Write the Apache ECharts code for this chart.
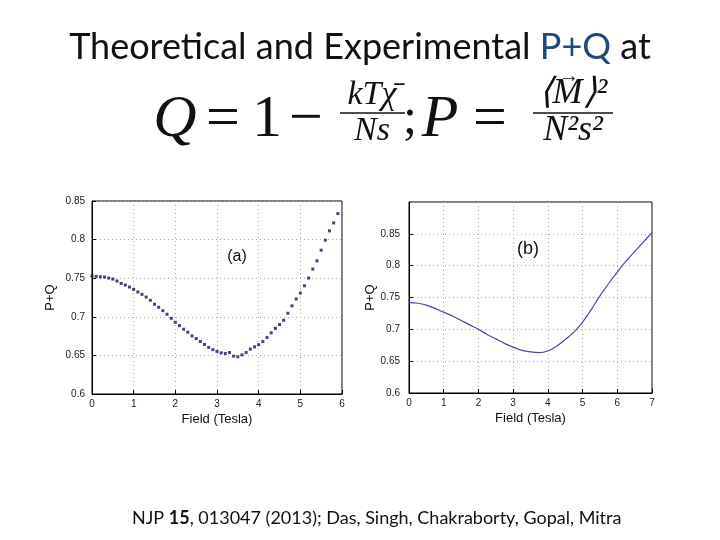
<!DOCTYPE html>
<html>
<head>
<meta charset="utf-8">
<script src="https://cdn.jsdelivr.net/npm/echarts@6/dist/echarts.min.js"></script>
<style>html,body{margin:0;padding:0;background:#fff}#c{width:720px;height:540px}</style>
</head>
<body>
<div id="c"></div>
<script>
// Panel (a): experimental points
const fieldA = [0.0,0.1,0.2,0.3,0.4,0.5,0.6,0.7,0.8,0.9,1.0,1.1,1.2,1.3,1.4,1.5,1.6,1.7,1.8,1.9,
  2.0,2.1,2.2,2.3,2.4,2.5,2.6,2.7,2.8,2.9,3.0,3.1,3.2,3.3,3.4,3.5,3.6,3.7,3.8,3.9,
  4.0,4.1,4.2,4.3,4.4,4.5,4.6,4.7,4.8,4.9,5.0,5.1,5.2,5.3,5.4,5.5,5.6,5.7,5.8,5.9];
const pqA = [0.7528,0.7524,0.7519,0.7515,0.7502,0.7489,0.7463,0.7433,0.7411,0.7386,
  0.7356,0.7321,0.7291,0.7256,0.7214,0.7162,0.7123,0.7079,0.7033,0.6981,
  0.6929,0.6886,0.6839,0.6801,0.6753,0.6718,0.6680,0.6642,0.6604,0.6575,
  0.6552,0.6533,0.6524,0.6537,0.6490,0.6482,0.6507,0.6537,0.6581,0.6611,
  0.6640,0.6679,0.6731,0.6792,0.6850,0.6899,0.6955,0.7046,0.7142,0.7231,
  0.7308,0.7402,0.7502,0.7618,0.7725,0.7863,0.7993,0.8113,0.8216,0.8337];
// Panel (b): theoretical curve
const fieldB = [0,0.25,0.5,0.75,1.0,1.25,1.5,1.75,2.0,2.25,2.5,2.75,3.0,3.25,3.5,3.75,
  4.0,4.25,4.5,4.75,5.0,5.25,5.5,5.75,6.0,6.25,6.5,6.75,7.0];
const pqB = [0.742,0.741,0.738,0.733,0.727,0.721,0.714,0.707,0.700,0.692,0.685,0.678,0.672,0.667,0.6645,0.6635,
  0.666,0.6735,0.684,0.6955,0.7115,0.731,0.7525,0.772,0.790,0.807,0.822,0.837,0.852];

const chart = echarts.init(document.getElementById('c'), null, {renderer:'canvas'});
const axisFont = {fontFamily:'Liberation Sans', fontSize:10, color:'#222'};
const nameFont = {fontFamily:'Liberation Sans', fontSize:13, color:'#111'};
function xAx(idx, max, gap){
  return {type:'value', gridIndex:idx, min:0, max:max, interval:1,
    name:'Field (Tesla)', nameLocation:'middle', nameGap:gap, nameTextStyle:nameFont,
    axisLine:{show:true, onZero:false, lineStyle:{color:'#000', width:1}},
    axisTick:{show:true, inside:true, length:4, lineStyle:{color:'#000'}},
    axisLabel:Object.assign({margin:5}, axisFont),
    splitLine:{show:true, lineStyle:{color:'#aaa', type:[1,3], width:1}}};
}
function yAx(idx, max, gap, margin){
  return {type:'value', gridIndex:idx, min:0.6, max:max, interval:0.05,
    name:'P+Q', nameLocation:'middle', nameGap:gap, nameTextStyle:nameFont,
    axisLine:{show:true, onZero:false, lineStyle:{color:'#000', width:1}},
    axisTick:{show:true, inside:true, length:4, lineStyle:{color:'#000'}},
    axisLabel:Object.assign({margin:margin, showMaxLabel: max <= 0.85,
      formatter: v => (v > 0.875 ? '' : String(+v.toFixed(2)))}, axisFont),
    splitLine:{show:true, lineStyle:{color:'#aaa', type:[1,3], width:1}}};
}
const serif = 'Liberation Serif';
const mathTexts = [
  ['Q', 175, 120, 60, 'italic'],
  ['=', 223, 120, 60, 'normal'],
  ['1', 267, 120, 60, 'normal'],
  ['\u2212', 306, 120, 60, 'normal'],
  ['kT\u03C7\u0304', 372, 95, 34, 'italic'],
  ['Ns', 372, 131, 34, 'italic'],
  [';', 410, 120, 50, 'normal'],
  ['P', 440, 120, 60, 'italic'],
  ['=', 490, 120, 60, 'normal'],
  ['\u27E8M\u27E9\u00B2', 573, 94, 36, 'italic'],
  ['\u2192', 569, 77, 20, 'normal'],
  ['N\u00B2s\u00B2', 573, 131, 36, 'italic']
];
const graphics = mathTexts.map(t => ({type:'text', x:t[1], y:t[2],
  style:{text:t[0], x:0, y:0, align:'center', verticalAlign:'middle',
    font: t[4] + ' ' + t[3] + 'px "' + serif + '"', fill:'#111'}}));
graphics.push({type:'line', shape:{x1:340, y1:113, x2:405, y2:113}, style:{stroke:'#111', lineWidth:1.5}});
graphics.push({type:'line', shape:{x1:533, y1:113, x2:613, y2:113}, style:{stroke:'#111', lineWidth:1.5}});
graphics.push({type:'text', x:237, y:257, style:{text:'(a)', align:'center', verticalAlign:'middle', font:'16px "Liberation Sans"', fill:'#111'}});
graphics.push({type:'text', x:528, y:249, style:{text:'(b)', align:'center', verticalAlign:'middle', font:'18px "Liberation Sans"', fill:'#111'}});

chart.setOption({
  backgroundColor:'#fff',
  animation:false,
  title:[
    {text:'Theoretical and Experimental {b|P+Q} at', left:'center', top:24,
     textStyle:{fontFamily:'Lato', fontSize:36, fontWeight:'normal', color:'#111',
       rich:{b:{fontFamily:'Lato', fontSize:36, color:'#1F497D'}}}},
    {text:'NJP {b|15}, 013047 (2013); Das, Singh, Chakraborty, Gopal, Mitra', left:127, top:504,
     textStyle:{fontFamily:'Lato', fontSize:18, fontWeight:'normal', color:'#111',
       rich:{b:{fontFamily:'Lato', fontSize:18, fontWeight:'bold', color:'#111'}}}}
  ],
  grid:[
    {left:92, right:378, top:201, bottom:146, show:true, borderColor:'#000', borderWidth:1, backgroundColor:'#fff'},
    {left:409, right:68, top:202, bottom:147, show:true, borderColor:'#000', borderWidth:1, backgroundColor:'#fff'}
  ],
  xAxis:[xAx(0, 6, 19), xAx(1, 7, 19)],
  yAxis:[yAx(0, 0.85, 35, 7), yAx(1, 0.9, 29, 9)],
  graphic: graphics,
  series:[
    {type:'scatter', xAxisIndex:0, yAxisIndex:0, symbol:'rect', symbolSize:3,
     itemStyle:{color:'#14145e'}, data: fieldA.map((f,i)=>[f, pqA[i]])},
    {type:'line', xAxisIndex:1, yAxisIndex:1, smooth:0.3, showSymbol:false, symbol:'none',
     lineStyle:{color:'#4a4a9c', width:1.2}, data: fieldB.map((f,i)=>[f, pqB[i]])}
  ]
});
</script>
</body>
</html>
